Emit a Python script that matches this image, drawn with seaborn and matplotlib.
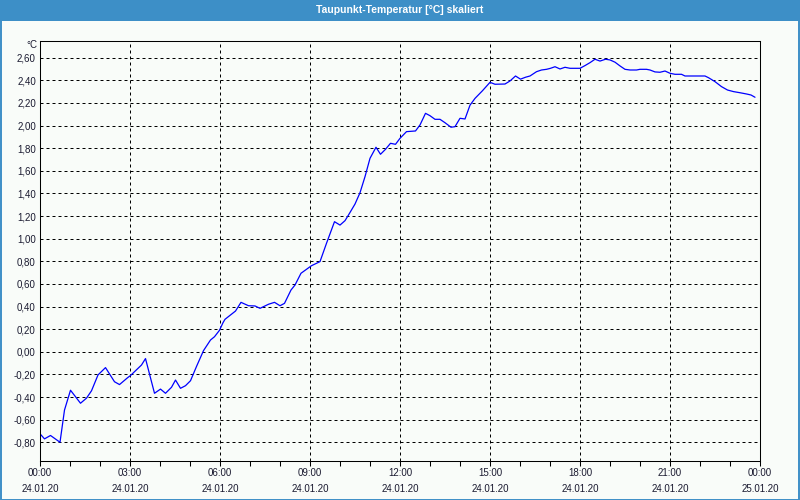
import matplotlib
matplotlib.use("Agg")
import matplotlib.pyplot as plt
import seaborn as sns
import pandas as pd
from matplotlib.patches import Rectangle

# ---- data (minutes since 24.01.20 00:00, dew point in °C) ----
minutes = [1, 9, 21, 29, 40, 49, 61, 81, 93, 103, 116, 131, 149, 159, 175, 181,
           203, 211, 229, 241, 251, 263, 271, 281, 291, 301, 313, 327, 341, 349,
           359, 366, 370, 391, 402, 417, 430, 440, 457, 469, 480, 489, 502, 510,
           522, 531, 543, 560, 573, 589, 600, 610, 617, 630, 640, 650, 660, 672,
           681, 691, 701, 711, 720, 733, 751, 760, 771, 780, 790, 800, 810, 822,
           830, 840, 850, 860, 870, 885, 900, 910, 930, 940, 951, 961, 971, 980,
           993, 1003, 1013, 1021, 1030, 1040, 1050, 1060, 1070, 1080, 1090, 1100,
           1110, 1120, 1131, 1140, 1150, 1160, 1170, 1180, 1193, 1200, 1213, 1220,
           1230, 1240, 1250, 1260, 1270, 1283, 1290, 1310, 1330, 1337, 1350, 1363,
           1375, 1387, 1400, 1413, 1422, 1430]
dewpoint = [-0.73, -0.77, -0.74, -0.765, -0.80, -0.515, -0.34, -0.455, -0.41, -0.345,
            -0.205, -0.14, -0.265, -0.29, -0.23, -0.21, -0.117, -0.06, -0.367, -0.33,
            -0.367, -0.314, -0.25, -0.323, -0.30, -0.256, -0.13, 0.01, 0.104, 0.133,
            0.19, 0.257, 0.287, 0.36, 0.437, 0.407, 0.405, 0.384, 0.42, 0.437, 0.407,
            0.428, 0.546, 0.59, 0.694, 0.723, 0.761, 0.797, 0.959, 1.15, 1.12, 1.159,
            1.209, 1.306, 1.406, 1.548, 1.71, 1.808, 1.746, 1.79, 1.843, 1.834, 1.887,
            1.946, 1.952, 2.005, 2.108, 2.087, 2.055, 2.055, 2.025, 1.985, 1.99, 2.064,
            2.058, 2.18, 2.24, 2.308, 2.382, 2.365, 2.367, 2.394, 2.438, 2.41, 2.427,
            2.438, 2.476, 2.491, 2.497, 2.506, 2.52, 2.50, 2.515, 2.506, 2.506, 2.506,
            2.53, 2.556, 2.586, 2.57, 2.586, 2.58, 2.56, 2.527, 2.497, 2.491, 2.491,
            2.497, 2.497, 2.491, 2.474, 2.471, 2.482, 2.462, 2.453, 2.453, 2.438,
            2.438, 2.438, 2.423, 2.388, 2.344, 2.314, 2.30, 2.29, 2.279, 2.27, 2.25]

x_tick_hours = [0, 3, 6, 9, 12, 15, 18, 21, 24]
x_tick_labels = ["00:00\n24.01.20", "03:00\n24.01.20", "06:00\n24.01.20",
                 "09:00\n24.01.20", "12:00\n24.01.20", "15:00\n24.01.20",
                 "18:00\n24.01.20", "21:00\n24.01.20", "00:00\n25.01.20"]
y_ticks = [-0.8, -0.6, -0.4, -0.2, 0.0, 0.2, 0.4, 0.6, 0.8, 1.0, 1.2, 1.4,
           1.6, 1.8, 2.0, 2.2, 2.4, 2.6]
y_tick_labels = ["-0,80", "-0,60", "-0,40", "-0,20", "0,00", "0,20", "0,40",
                 "0,60", "0,80", "1,00", "1,20", "1,40", "1,60", "1,80", "2,00",
                 "2,20", "2,40", "2,60"]
title = "Taupunkt-Temperatur [°C] skaliert"
unit = "°C"

df = pd.DataFrame({"hours": [m / 60 for m in minutes], "value": dewpoint})

sns.set_theme(style="white")
plt.rcParams["font.family"] = ["Liberation Sans", "DejaVu Sans"]

BG = "#f9fcf9"
BLUE = "#3d8fc7"
TXT = "#1a1a30"

fig = plt.figure(figsize=(8, 5), dpi=100, facecolor=BG)
ax = fig.add_axes([40 / 800, 1 - 460.7 / 500, 720 / 800, 420 / 500])
ax.set_facecolor(BG)

sns.lineplot(data=df, x="hours", y="value", ax=ax, color="#0000ff",
             linewidth=0.9, estimator=None, sort=False)

ax.set_xlim(0, 24)
ax.set_ylim(-0.963, 2.750)

ax.set_xticks(x_tick_hours)
ax.set_xticklabels(x_tick_labels, linespacing=1.75)
ax.set_xticks(range(0, 25), minor=True)
ax.set_yticks(y_ticks)
ax.set_yticklabels(y_tick_labels)

ax.tick_params(axis="x", which="both", direction="out", length=3.5, width=0.75,
               color="black", labelsize=7, labelcolor=TXT, pad=2, bottom=True)
ax.tick_params(axis="y", which="both", length=0, labelsize=7,
               labelcolor=TXT, pad=3)

ax.set_xlabel("")
ax.set_ylabel("")

for s in ax.spines.values():
    s.set_visible(True)
    s.set_color("black")
    s.set_linewidth(0.75)

ax.grid(True, which="major", color="black", linewidth=0.72,
        linestyle=(0, (3, 3)))
ax.set_axisbelow(True)

# unit label above y axis
fig.text(37 / 800, 1 - 45 / 500, unit, ha="right", va="center",
         fontsize=7, color=TXT)

# title bar
fig.patches.append(Rectangle((0, 1 - 21 / 500), 1, 21 / 500,
                             transform=fig.transFigure, facecolor=BLUE,
                             edgecolor="none", zorder=0))
fig.text(0.5, 1 - 10 / 500, title, ha="center", va="center", fontsize=7.5,
         color="white", weight="bold")

# outer border
fig.patches.append(Rectangle((0.0008, 0.001), 0.9984, 0.998,
                             transform=fig.transFigure, facecolor="none",
                             edgecolor=BLUE, linewidth=1.4, zorder=5))

fig.savefig("out.png", dpi=100, facecolor=BG)
